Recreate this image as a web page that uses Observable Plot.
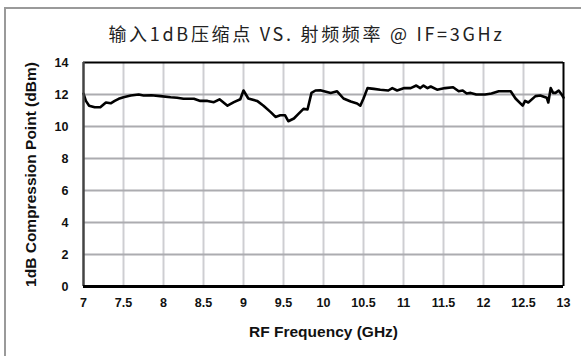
<!DOCTYPE html>
<html>
<head>
<meta charset="utf-8">
<script src="https://cdn.jsdelivr.net/npm/d3@7"></script>
<script src="https://cdn.jsdelivr.net/npm/@observablehq/plot@0.6"></script>
<style>
  html, body { margin: 0; padding: 0; background: #fff; }
  #wrap { position: relative; width: 581px; height: 356px; overflow: hidden; background: #fff; }
  #frameL { position: absolute; left: 4px; top: 8px; width: 2px; height: 348px; background: #9a9a9a; }
  #frameT { position: absolute; left: 4px; top: 7px; width: 577px; height: 2px; background: #9a9a9a; }
  #title { position: absolute; left: 16px; width: 581px; top: 20px; height: 30px; text-align: center;
           font-family: "Noto Sans CJK SC", sans-serif; font-size: 18px; letter-spacing: 2.7px; color: #222; }
  #chart { position: absolute; left: 0; top: 50px; }
</style>
</head>
<body>
<div id="wrap">
  <div id="frameL"></div>
  <div id="frameT"></div>
  <div id="title"></div>
  <div id="chart"></div>
</div>
<script>
const titleText = "输入1dB压缩点 VS. 射频频率 @ IF=3GHz";
const xLabel = "RF Frequency (GHz)";
const yLabel = "1dB Compression Point (dBm)";
const xTicks = [7, 7.5, 8, 8.5, 9, 9.5, 10, 10.5, 11, 11.5, 12, 12.5, 13];
const yTicks = [0, 2, 4, 6, 8, 10, 12, 14];

const freq = [7.0, 7.03, 7.07, 7.14, 7.21, 7.28, 7.34, 7.39, 7.44, 7.5, 7.59, 7.69, 7.75, 7.85, 7.96, 8.09, 8.17, 8.25, 8.38, 8.46, 8.55, 8.63, 8.7, 8.8, 8.88, 8.96, 9.0, 9.06, 9.17, 9.25, 9.34, 9.4, 9.46, 9.52, 9.56, 9.63, 9.69, 9.75, 9.8, 9.85, 9.9, 9.96, 10.09, 10.17, 10.25, 10.34, 10.42, 10.46, 10.5, 10.55, 10.63, 10.71, 10.81, 10.86, 10.92, 11.01, 11.09, 11.16, 11.21, 11.25, 11.3, 11.34, 11.42, 11.52, 11.62, 11.69, 11.74, 11.79, 11.84, 11.91, 12.02, 12.1, 12.19, 12.34, 12.4, 12.49, 12.52, 12.56, 12.65, 12.71, 12.79, 12.81, 12.84, 12.87, 12.9, 12.94, 12.97, 13.0];
const p1db = [12.05, 11.6, 11.3, 11.2, 11.2, 11.5, 11.45, 11.6, 11.73, 11.83, 11.94, 12.0, 11.94, 11.95, 11.9, 11.83, 11.8, 11.73, 11.73, 11.6, 11.6, 11.52, 11.7, 11.3, 11.52, 11.7, 12.25, 11.75, 11.6, 11.3, 10.9, 10.6, 10.7, 10.7, 10.33, 10.5, 10.8, 11.1, 11.06, 12.1, 12.25, 12.27, 12.1, 12.2, 11.75, 11.56, 11.44, 11.3, 11.75, 12.4, 12.35, 12.3, 12.25, 12.4, 12.25, 12.4, 12.4, 12.56, 12.4, 12.56, 12.4, 12.5, 12.3, 12.4, 12.45, 12.2, 12.25, 12.06, 12.1, 12.0, 12.0, 12.06, 12.2, 12.2, 11.75, 11.3, 11.6, 11.5, 11.9, 11.94, 11.8, 11.5, 12.4, 12.1, 12.1, 12.25, 12.05, 11.8];

document.getElementById("title").textContent = titleText;

const data = freq.map((f, i) => ({f, v: p1db[i]}));

const axisFont = "'Liberation Sans', Arial, sans-serif";

const chart = Plot.plot({
  width: 581,
  height: 306,
  marginLeft: 83,
  marginRight: 18,
  marginTop: 12,
  marginBottom: 70,
  style: { fontFamily: axisFont, fontWeight: "bold", fontSize: "12.5px", color: "#111" },
  x: { domain: [7, 13] },
  y: { domain: [0, 14] },
  marks: [
    Plot.gridX(xTicks.slice(1, -1), { stroke: "rgb(206,206,210)", strokeOpacity: 1, strokeWidth: 2 }),
    Plot.gridY(yTicks.slice(1, -1), { stroke: "rgb(172,172,176)", strokeOpacity: 1, strokeWidth: 2 }),
    Plot.line(data, { x: "f", y: "v", stroke: "#000", strokeWidth: 2.6, strokeLinejoin: "round" }),
    Plot.ruleY([14], { stroke: "#000", strokeWidth: 2 }),
    Plot.ruleX([13], { stroke: "#000", strokeWidth: 2 }),
    Plot.ruleX([7], { stroke: "#444", strokeWidth: 2.5 }),
    Plot.ruleY([0], { stroke: "#000", strokeWidth: 3 }),
    Plot.axisX({ ticks: xTicks, tickSize: 0, tickPadding: 12, tickFormat: d => String(d),
                 fontSize: 12.5, fontWeight: "bold", label: null }),
    Plot.axisX({ ticks: [], tickSize: 0, fontSize: 15.5, fontWeight: "bold",
                 label: xLabel, labelAnchor: "center", labelOffset: 50, labelArrow: false }),
    Plot.axisY({ ticks: yTicks, tickSize: 0, tickPadding: 15, fontSize: 12.5, fontWeight: "bold", label: null }),
    Plot.axisY({ ticks: [], tickSize: 0, fontSize: 15.5, fontWeight: "bold",
                 label: yLabel, labelAnchor: "center", labelOffset: 59, labelArrow: false })
  ]
});
document.getElementById("chart").appendChild(chart);
</script>
</body>
</html>
